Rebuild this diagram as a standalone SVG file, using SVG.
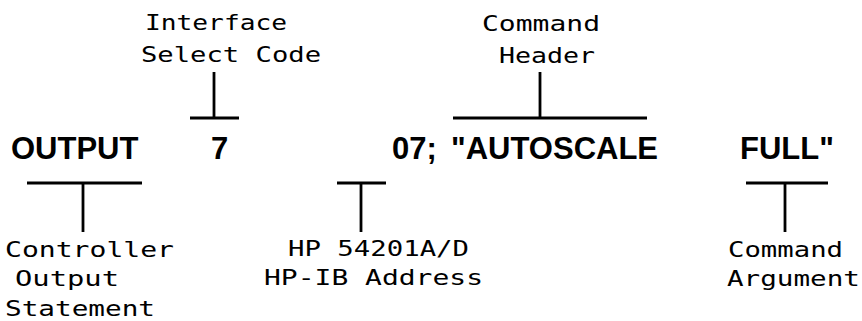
<svg xmlns="http://www.w3.org/2000/svg" width="862" height="321" viewBox="0 0 862 321">
<style>
.m{font-family:"DejaVu Sans Mono","Liberation Mono",monospace;font-size:21px;fill:#000}
.b{font-family:"Liberation Sans",Arial,sans-serif;font-weight:bold;font-size:31px;fill:#000}
.c line{stroke:#000;stroke-width:2.8}
</style>
<rect width="862" height="321" fill="#fff"/>
<g id="node-output"><text class="b" x="11" y="159">OUTPUT</text></g>
<g id="node-7"><text class="b" x="211" y="159">7</text></g>
<g id="node-07"><text class="b" x="392" y="159">07;</text></g>
<g id="node-autoscale"><text class="b" x="451" y="159">"AUTOSCALE</text></g>
<g id="node-full"><text class="b" x="740" y="159">FULL"</text></g>
<g id="label-isc"><text class="m" x="145" y="30" textLength="142" lengthAdjust="spacingAndGlyphs">Interface</text><text class="m" x="141" y="62" textLength="180" lengthAdjust="spacingAndGlyphs">Select Code</text></g>
<g id="label-header"><text class="m" x="482" y="31" textLength="118" lengthAdjust="spacingAndGlyphs">Command</text><text class="m" x="499" y="63" textLength="96" lengthAdjust="spacingAndGlyphs">Header</text></g>
<g id="label-controller"><text class="m" x="5" y="257" textLength="169" lengthAdjust="spacingAndGlyphs">Controller</text><text class="m" x="15" y="286" textLength="104" lengthAdjust="spacingAndGlyphs">Output</text><text class="m" x="5" y="316" textLength="150" lengthAdjust="spacingAndGlyphs">Statement</text></g>
<g id="label-address"><text class="m" x="288" y="256" textLength="181" lengthAdjust="spacingAndGlyphs">HP 54201A/D</text><text class="m" x="264" y="285" textLength="219" lengthAdjust="spacingAndGlyphs">HP-IB Address</text></g>
<g id="label-argument"><text class="m" x="728" y="257" textLength="115" lengthAdjust="spacingAndGlyphs">Command</text><text class="m" x="727" y="286" textLength="133" lengthAdjust="spacingAndGlyphs">Argument</text></g>
<g id="connectors" class="c">
<line x1="214" y1="72" x2="214" y2="118"/><line x1="190" y1="118" x2="239" y2="118"/>
<line x1="540" y1="72" x2="540" y2="118"/><line x1="453" y1="118" x2="647" y2="118"/>
<line x1="27" y1="183" x2="142" y2="183"/><line x1="83" y1="183" x2="83" y2="232"/>
<line x1="337" y1="183" x2="386" y2="183"/><line x1="361" y1="183" x2="361" y2="232"/>
<line x1="746" y1="183" x2="828" y2="183"/><line x1="785" y1="183" x2="785" y2="232"/>
</g>
</svg>
